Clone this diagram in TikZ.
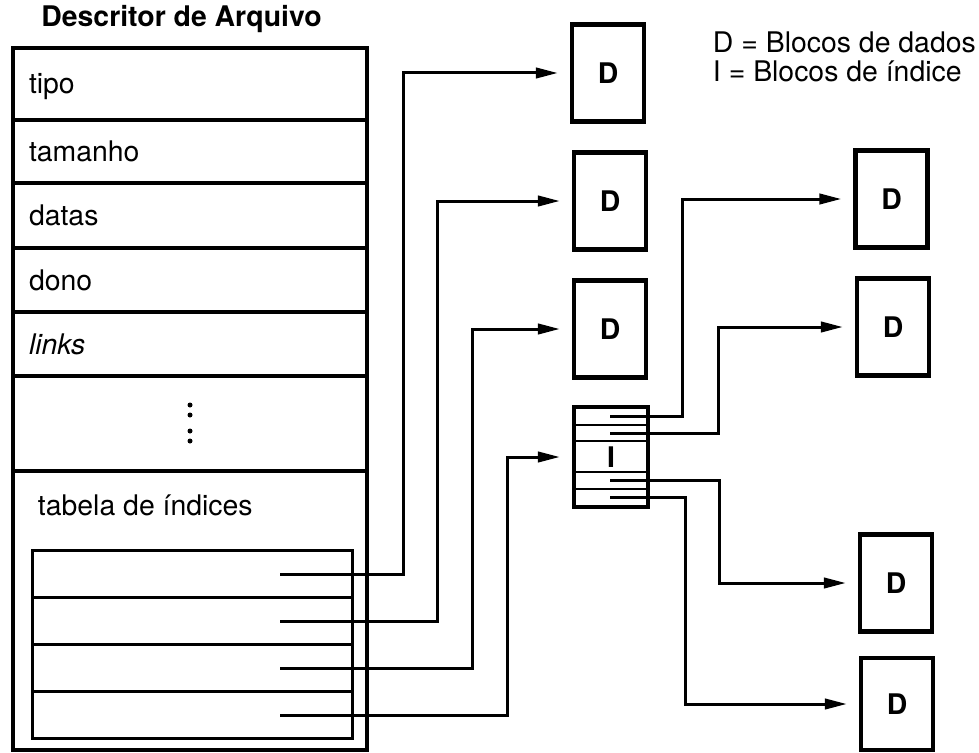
\documentclass[tikz,border=0pt]{standalone}
\usepackage{fontspec}
\setmainfont{TeX Gyre Heros}
\usetikzlibrary{arrows.meta,positioning,calc}

\tikzset{
  campo/.style={draw,line width=0.9mm,inner xsep=4mm,inner ysep=0pt,outer sep=0pt,
    text width=80.5mm,align=left,text height=5.5mm,text depth=0.5mm},
  entrada/.style={draw,line width=0.75mm,minimum width=79.75mm,minimum height=11.75mm,
    inner sep=0pt,outer sep=0pt},
  bloco/.style={draw,line width=1.1mm,minimum width=18mm,minimum height=24.25mm,
    inner sep=0pt,font=\fontsize{20.2}{24}\selectfont\bfseries},
  indice/.style={bloco,minimum width=18.5mm,minimum height=25mm},
  seta/.style={line width=0.75mm,-{Triangle[length=5.5mm,width=2.6mm]},shorten >=3mm}
}

\begin{document}
\begin{tikzpicture}[x=0.25mm,y=-0.25mm,font=\fontsize{20.2}{24}\selectfont]
  \useasboundingbox (0,0) rectangle (979,752);

  % descritor
  \node[anchor=base,font=\fontsize{20.2}{24}\selectfont\bfseries] (titulo) at (181.5,27) {Descritor de Arquivo};
  \node[campo,minimum height=18mm,anchor=north west] (tipo) at (13,48) {tipo};
  \node[campo,minimum height=15.75mm,below=0pt of tipo] (tamanho) {tamanho};
  \node[campo,minimum height=16.25mm,below=0pt of tamanho] (datas) {datas};
  \node[campo,minimum height=16mm,below=0pt of datas] (dono) {dono};
  \node[campo,minimum height=16mm,below=0pt of dono] (links) {\textit{links}};
  \node[campo,minimum height=23.75mm,below=0pt of links] (reticencias) {};
  \node[campo,minimum height=69.75mm,below=0pt of reticencias] (tabela) {};
  \draw[line width=1.2mm] (tipo.north west) rectangle (tabela.south east);
  \foreach \y in {405,415,431,441}
    \fill (190,\y) circle (2.5);
  \node[anchor=base west] (rotulo) at (33,515) {tabela de índices};

  % tabela de indices
  \foreach \i/\y in {1/574,2/621,3/668,4/715} {
    \node[entrada] (e\i) at (192.5,\y) {};
    \coordinate (p\i) at ($(e\i.center)+(87.5,0)$);
  }

  % blocos
  \node[bloco] (d1) at (608,73) {D};
  \node[bloco] (d2) at (610,201) {D};
  \node[bloco] (d3) at (610,329) {D};
  \node[indice] (ind) at (611,457) {I};
  \foreach \y in {425,441,472,489}
    \draw[line width=0.6mm] (575,\y) -- (647,\y);
  \foreach \i/\y in {1/416,2/433,3/480,4/497}
    \coordinate (q\i) at ($(ind.center)+(-1,\y-457)$);
  \node[bloco] (dA) at (891.5,199) {D};
  \node[bloco] (dB) at (893,327) {D};
  \node[bloco] (dC) at (896,583) {D};
  \node[bloco,minimum height=23mm] (dD) at (897,704) {D};

  % ponteiros
  \draw[seta] (p1) -- ++(123,0) |- (d1);
  \draw[seta] (p2) -- ++(157,0) |- (d2);
  \draw[seta] (p3) -- ++(192,0) |- (d3);
  \draw[seta] (p4) -- ++(227,0) |- (ind);
  \draw[seta] (q1) -- ++(72,0) |- (dA);
  \draw[seta] (q2) -- ++(108,0) |- (dB);
  \draw[seta] (q3) -- ++(109,0) |- (dC);
  \draw[seta] (q4) -- ++(75,0) |- (dD);

  % legenda
  \node[anchor=base west] (legD) at (708,53) {D = Blocos de dados};
  \node[anchor=base west] (legI) at (708,82) {I = Blocos de índice};
\end{tikzpicture}
\end{document}
